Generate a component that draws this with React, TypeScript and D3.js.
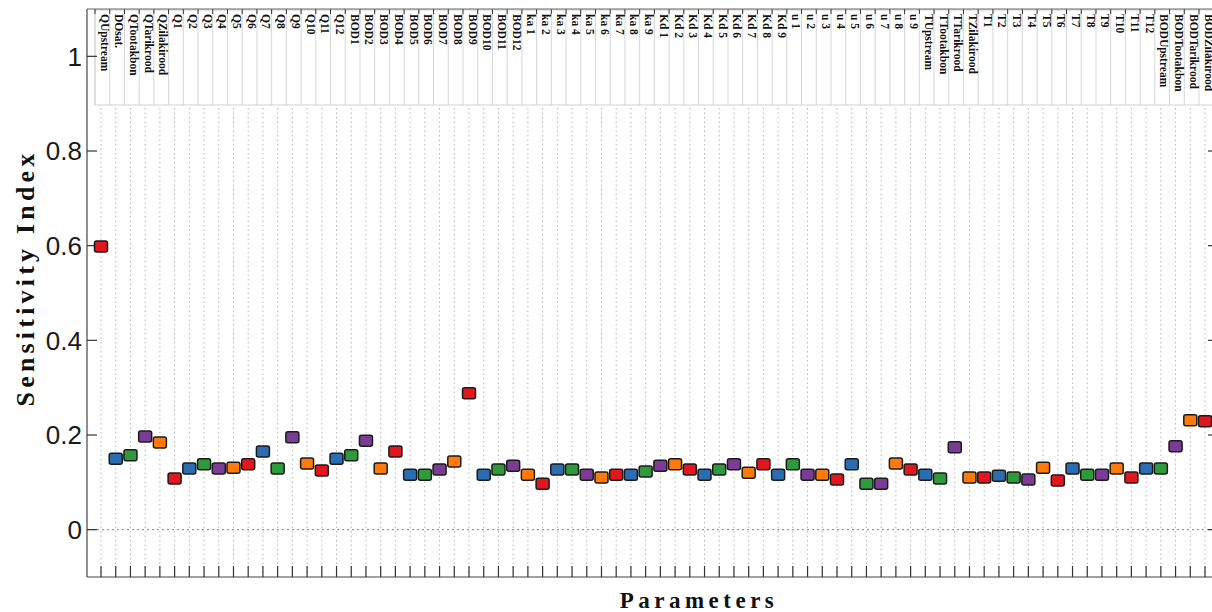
import * as d3 from "d3";

// parameter names, left to right
const params: string[] = [
  "QUpstream", "DOsat.", "QTootakbon", "QTarikrood", "QZilakirood",
  "Q1", "Q2", "Q3", "Q4", "Q5", "Q6", "Q7", "Q8", "Q9", "Q10", "Q11", "Q12",
  "BOD1", "BOD2", "BOD3", "BOD4", "BOD5", "BOD6", "BOD7", "BOD8", "BOD9", "BOD10", "BOD11", "BOD12",
  "ka 1", "ka 2", "ka 3", "ka 4", "ka 5", "ka 6", "ka 7", "ka 8", "ka 9",
  "Kd 1", "Kd 2", "Kd 3", "Kd 4", "Kd 5", "Kd 6", "Kd 7", "Kd 8", "Kd 9",
  "u 1", "u 2", "u 3", "u 4", "u 5", "u 6", "u 7", "u 8", "u 9",
  "TUpstream", "TTootakbon", "TTarikrood", "TZilakirood",
  "T1", "T2", "T3", "T4", "T5", "T6", "T7", "T8", "T9", "T10", "T11", "T12",
  "BODUpstream", "BODTootakbon", "BODTarikrood", "BODZilakirood",
];

// sensitivity index per parameter
const sensitivity: number[] = [
  0.598, 0.150, 0.157, 0.197, 0.184,
  0.108, 0.129, 0.138, 0.129, 0.131, 0.138, 0.165, 0.129, 0.195, 0.140, 0.125, 0.150,
  0.157, 0.188, 0.129, 0.165, 0.116, 0.116, 0.127, 0.144, 0.288, 0.116, 0.127, 0.135,
  0.116, 0.097, 0.127, 0.127, 0.116, 0.110, 0.116, 0.116, 0.123,
  0.135, 0.138, 0.127, 0.116, 0.127, 0.138, 0.120, 0.138, 0.116,
  0.138, 0.116, 0.116, 0.106, 0.138, 0.097, 0.097, 0.140, 0.127,
  0.116, 0.108, 0.174, 0.110,
  0.110, 0.114, 0.110, 0.106, 0.131, 0.104, 0.129, 0.116, 0.116, 0.129, 0.110, 0.129,
  0.129, 0.176, 0.231, 0.229,
];

const yTicks: number[] = [0, 0.2, 0.4, 0.6, 0.8, 1];
const palette: string[] = ["#e3161d", "#2c6db2", "#2f9a3b", "#7b3c96", "#ff7a0a"];

const W = 1212;
const H = 612;
const left = 87;
const right = 1216;
const top = 9;
const bottom = 577;

export default function App() {
  const x = d3.scalePoint<string>().domain(params).range([101, 1205]);
  const y = d3.scaleLinear().domain([-0.1, 1.1]).range([bottom, top]);
  const seps = params.map((p) => (x(p) as number) - 6);

  return (
    <svg
      width={W}
      height={H}
      style={{ position: "absolute", left: 0, top: 0, background: "#fff" }}
    >
      <rect x={0} y={0} width={W} height={H} fill="#fff" />

      {/* vertical dotted grid */}
      {params.map((p) => (
        <line
          key={"g" + p}
          x1={x(p)}
          x2={x(p)}
          y1={top}
          y2={bottom}
          stroke="#b4b4b4"
          strokeWidth={1}
          strokeDasharray="1.5,3"
        />
      ))}
      {/* zero line */}
      <line
        x1={left}
        x2={right}
        y1={y(0)}
        y2={y(0)}
        stroke="#808080"
        strokeDasharray="2,3"
      />

      {/* label box at the top */}
      <rect x={95} y={10} width={W} height={95} fill="#fff" stroke="#d0d0d0" />
      {seps.map((s, i) => (
        <line key={"s" + i} x1={s} x2={s} y1={10} y2={105} stroke="#d6d6d6" />
      ))}
      {seps.map((s, i) => (
        <line key={"tt" + i} x1={s} x2={s} y1={top} y2={top + 5} stroke="#333" />
      ))}
      {params.map((p) => (
        <text
          key={"l" + p}
          transform={`translate(${(x(p) as number) - 0.5},14) rotate(90)`}
          fontFamily="Liberation Serif, Times New Roman, serif"
          fontWeight="bold"
          fontSize={11.5}
          fill="#111"
        >
          {p}
        </text>
      ))}

      {/* frame */}
      <line x1={left} x2={left} y1={top} y2={bottom} stroke="#444" strokeWidth={1.2} />
      <line x1={left} x2={right} y1={bottom} y2={bottom} stroke="#444" strokeWidth={1.2} />
      <line x1={left} x2={right} y1={top} y2={top} stroke="#666" strokeWidth={1} />

      {/* bottom ticks */}
      {params.map((p) => (
        <line
          key={"bt" + p}
          x1={x(p)}
          x2={x(p)}
          y1={bottom}
          y2={bottom - 11}
          stroke="#333"
          strokeWidth={1.2}
        />
      ))}

      {/* y ticks and labels */}
      {yTicks.map((t) => (
        <g key={"y" + t}>
          <line x1={left} x2={left + 10} y1={y(t)} y2={y(t)} stroke="#333" strokeWidth={1.2} />
          <line x1={right - 8} x2={right} y1={y(t)} y2={y(t)} stroke="#333" strokeWidth={1.2} />
          <text
            x={82}
            y={y(t)}
            dy="0.36em"
            textAnchor="end"
            fontFamily="Liberation Sans, Arial, sans-serif"
            fontSize={26}
            fill="#1a1a1a"
          >
            {t === 0 || t === 1 ? String(t) : t.toFixed(1)}
          </text>
        </g>
      ))}

      {/* markers */}
      {params.map((p, i) => (
        <rect
          key={"m" + p}
          x={(x(p) as number) - 6.5}
          y={y(sensitivity[i]) - 5.5}
          width={13}
          height={11}
          rx={2}
          fill={palette[i % palette.length]}
          stroke="#1b1b1b"
          strokeWidth={1.5}
        />
      ))}

      {/* axis titles */}
      <text
        transform="translate(34,278) rotate(-90)"
        textAnchor="middle"
        fontFamily="Liberation Serif, Times New Roman, serif"
        fontWeight="bold"
        fontSize={26}
        letterSpacing={4.2}
        fill="#111"
      >
        Sensitivity Index
      </text>
      <text
        x={699}
        y={608}
        textAnchor="middle"
        fontFamily="Liberation Serif, Times New Roman, serif"
        fontWeight="bold"
        fontSize={23}
        letterSpacing={4.5}
        fill="#111"
      >
        Parameters
      </text>
    </svg>
  );
}
